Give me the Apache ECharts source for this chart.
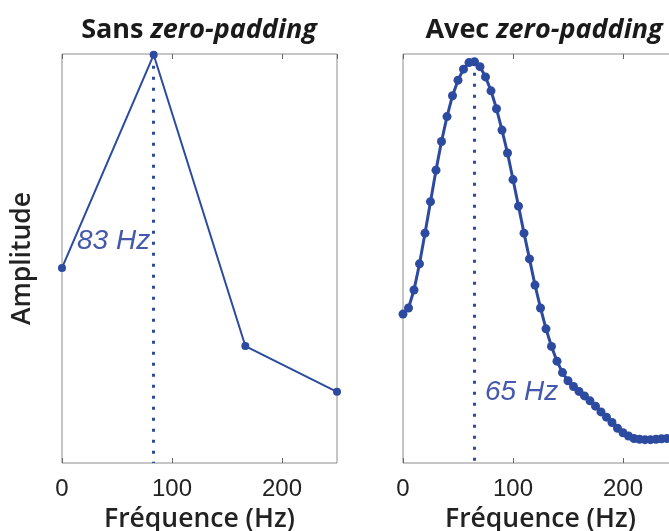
<!DOCTYPE html>
<html>
<head>
<meta charset="utf-8">
<script src="https://cdn.jsdelivr.net/npm/echarts@6/dist/echarts.min.js"></script>
<style>
html,body{margin:0;padding:0;background:#fff;}
#c{width:669px;height:531px;}
</style>
</head>
<body>
<div id="c"></div>
<script>
// Left panel: without zero-padding
var freqLeft = [0, 83.33, 166.67, 250];
var ampLeft = [0.477, 0.998, 0.286, 0.174];
var peakLeft = 83.33;

// Right panel: with zero-padding
var freqRight = [0,5,10,15,20,25,30,35,40,45,50,55,60,65,70,75,80,85,90,95,100,105,110,115,120,125,130,135,140,145,150,155,160,165,170,175,180,185,190,195,200,205,210,215,220,225,230,235,240];
var ampRight = [0.364,0.379,0.423,0.487,0.562,0.639,0.716,0.786,0.847,0.898,0.936,0.963,0.979,0.981,0.969,0.944,0.910,0.866,0.814,0.758,0.693,0.628,0.562,0.499,0.435,0.379,0.328,0.285,0.249,0.221,0.201,0.187,0.175,0.164,0.152,0.139,0.125,0.112,0.099,0.085,0.074,0.066,0.060,0.058,0.057,0.057,0.058,0.059,0.060];
var peakRight = 65;

var xTicks = [0, 100, 200];
var titles = ['Sans', 'Avec'];
var titleItalic = 'zero-padding';
var xName = 'Fréquence (Hz)';
var yName = 'Amplitude';

var blue = '#2c4a9f';
var labelBlue = '#4459ad';
var border = '#8c8c8c';

function xAxisBottom(g){
  return {
    type:'value', gridIndex:g, min:0, max:250, interval:100, position:'bottom',
    axisLine:{show:false},
    axisTick:{show:true, inside:true, length:5, lineStyle:{color:'#666'}},
    axisLabel:{show:true, margin:14, color:'#222', fontSize:24, fontFamily:'Liberation Sans', showMaxLabel:false,
      formatter:function(v){ return xTicks.indexOf(v) >= 0 ? String(v) : ''; }},
    splitLine:{show:false},
    name:xName, nameLocation:'middle', nameGap:43,
    nameTextStyle:{fontSize:26.5, fontFamily:'Open Sans', fontWeight:600, color:'#222'}
  };
}
function xAxisTop(g){
  return {
    type:'value', gridIndex:g, min:0, max:250, interval:100, position:'top',
    axisLine:{show:false},
    axisTick:{show:true, inside:true, length:5, lineStyle:{color:'#666'}},
    axisLabel:{show:false}, splitLine:{show:false}
  };
}
function yAxis(g, named){
  var a = {
    type:'value', gridIndex:g, min:0, max:1,
    axisLine:{show:false}, axisTick:{show:false}, axisLabel:{show:false}, splitLine:{show:false}
  };
  if (named){
    a.name = yName; a.nameLocation = 'middle'; a.nameGap = 26; a.nameRotate = 90;
    a.nameTextStyle = {fontSize:26.5, fontFamily:'Open Sans', fontWeight:600, color:'#222'};
  }
  return a;
}

function titleObj(i, cx){
  return {
    text:'{a|' + titles[i] + ' }{b|' + titleItalic + '}',
    left:cx, top:12, textAlign:'center',
    textStyle:{
      rich:{
        a:{fontSize:27, fontFamily:'Open Sans', fontWeight:700, color:'#1a1a1a'},
        b:{fontSize:27, fontFamily:'Open Sans', fontWeight:700, fontStyle:'italic', color:'#1a1a1a'}
      }
    }
  };
}

function zip(xs, ys){ return xs.map(function(x,i){ return [x, ys[i]]; }); }
function peakValue(xs, ys, p){
  var best = 0, bd = Infinity;
  xs.forEach(function(x,i){ var d = Math.abs(x-p); if (d < bd){ bd = d; best = ys[i]; } });
  return best;
}

var chart = echarts.init(document.getElementById('c'), null, {renderer:'canvas'});
chart.setOption({
  animation:false,
  backgroundColor:'#fff',
  title:[titleObj(0, 194), titleObj(1, 539)],
  grid:[
    {left:62, top:54, width:275, height:409, show:true, borderColor:border, borderWidth:1, backgroundColor:'transparent', outerBoundsMode:'none', containLabel:false},
    {left:403, top:54, width:275, height:409, show:true, borderColor:border, borderWidth:1, backgroundColor:'transparent', outerBoundsMode:'none', containLabel:false}
  ],
  xAxis:[xAxisBottom(0), xAxisTop(0), xAxisBottom(1), xAxisTop(1)],
  yAxis:[yAxis(0,true), yAxis(1,false)],
  series:[
    {
      type:'line', xAxisIndex:0, yAxisIndex:0, data:zip(freqLeft, ampLeft),
      symbol:'circle', symbolSize:8, clip:false,
      lineStyle:{color:blue, width:2}, itemStyle:{color:blue},
      markLine:{
        silent:true, symbol:'none', label:{show:false},
        lineStyle:{color:blue, width:3, type:[3,8], cap:'butt'},
        data:[[{coord:[peakLeft, peakValue(freqLeft, ampLeft, peakLeft)]},{coord:[peakLeft, 0]}]]
      },
      markPoint:{
        silent:true, symbol:'circle', symbolSize:1, itemStyle:{color:'rgba(0,0,0,0)'},
        label:{show:true, position:'left', distance:3, formatter:'83 Hz', color:labelBlue,
          fontSize:28, fontStyle:'italic', fontFamily:'Liberation Sans'},
        data:[{coord:[peakLeft, 0.543]}]
      }
    },
    {
      type:'line', xAxisIndex:2, yAxisIndex:1, data:zip(freqRight, ampRight),
      symbol:'circle', symbolSize:9, clip:true,
      lineStyle:{color:blue, width:3}, itemStyle:{color:blue},
      markLine:{
        silent:true, symbol:'none', label:{show:false},
        lineStyle:{color:blue, width:3, type:[3,8], cap:'butt'},
        data:[[{coord:[peakRight, peakValue(freqRight, ampRight, peakRight)]},{coord:[peakRight, 0]}]]
      },
      markPoint:{
        silent:true, symbol:'circle', symbolSize:1, itemStyle:{color:'rgba(0,0,0,0)'},
        label:{show:true, position:'right', distance:10, formatter:'65 Hz', color:labelBlue,
          fontSize:28, fontStyle:'italic', fontFamily:'Liberation Sans'},
        data:[{coord:[peakRight, 0.174]}]
      }
    }
  ]
});
</script>
</body>
</html>
